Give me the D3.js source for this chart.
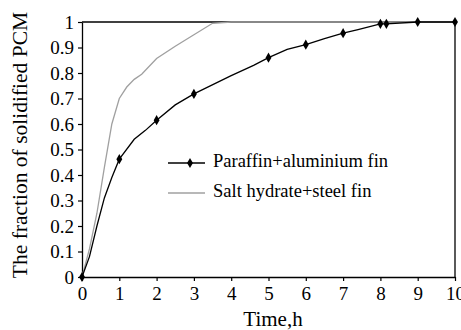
<!DOCTYPE html>
<meta charset="utf-8">
<script src="https://d3js.org/d3.v7.min.js"></script>
<body style="margin:0;background:#fff">
<svg id="chart" width="461" height="330"></svg>
<script>
// data
const paraffinX = [0, 0.2, 0.4, 0.6, 0.8, 1, 1.4, 1.7, 2, 2.5, 3, 4, 4.6, 5, 5.5, 6, 6.5, 7, 7.4, 8, 8.16, 9, 10];
const paraffinY = [0, 0.08, 0.2, 0.31, 0.39, 0.462, 0.54, 0.575, 0.615, 0.675, 0.718, 0.79, 0.83, 0.86, 0.893, 0.911, 0.935, 0.956, 0.97, 0.993, 0.993, 1, 1];
const paraffinMarkers = [0, 1, 2, 3, 5, 6, 7, 8, 8.16, 9, 10];
const saltX = [0, 0.2, 0.4, 0.6, 0.8, 1, 1.2, 1.4, 1.6, 2, 2.5, 3, 3.5, 4, 5, 6, 7, 8, 9, 10];
const saltY = [0, 0.11, 0.25, 0.43, 0.6, 0.7, 0.745, 0.775, 0.795, 0.857, 0.905, 0.95, 0.995, 1, 1, 1, 1, 1, 1, 1];
const xTicks = [0, 1, 2, 3, 4, 5, 6, 7, 8, 9, 10];
const yTicks = [0, 0.1, 0.2, 0.3, 0.4, 0.5, 0.6, 0.7, 0.8, 0.9, 1];
const seriesNames = ["Paraffin+aluminium fin", "Salt hydrate+steel fin"];

const svg = d3.select("#chart");
const font = "'Liberation Serif', 'Times New Roman', serif";
const x = d3.scaleLinear().domain([0, 10]).range([82, 455]);
const y = d3.scaleLinear().domain([0, 1]).range([277, 22]);

// frame top/right
svg.append("line").attr("x1", x(0)).attr("x2", x(10)).attr("y1", y(1)).attr("y2", y(1)).attr("stroke", "#000").attr("stroke-width", 1.3);
svg.append("line").attr("x1", x(10)).attr("x2", x(10)).attr("y1", y(1)).attr("y2", y(0)).attr("stroke", "#000").attr("stroke-width", 1.3);

const xAxis = svg.append("g").attr("transform", `translate(0,${y(0)})`)
  .call(d3.axisBottom(x).tickValues(xTicks).tickFormat(d3.format("d")).tickSize(4).tickSizeOuter(0));
const yAxis = svg.append("g").attr("transform", `translate(${x(0)},0)`)
  .call(d3.axisLeft(y).tickValues(yTicks).tickFormat(d => d === 0 || d === 1 ? d : d.toFixed(1)).tickSize(4).tickSizeOuter(0));
[xAxis, yAxis].forEach(a => {
  a.select(".domain").attr("stroke-width", 1.3);
  a.selectAll("line").attr("stroke-width", 1.2);
  a.selectAll("text").attr("font-family", font).attr("font-size", 19).attr("fill", "#000");
});
xAxis.selectAll("text").attr("dy", null).attr("y", 23);
yAxis.selectAll("text").attr("x", -8);

const line = d3.line().x(d => x(d[0])).y(d => y(d[1]));
const salt = saltX.map((v, i) => [v, saltY[i]]);
const paraffin = paraffinX.map((v, i) => [v, paraffinY[i]]);

svg.append("path").datum(salt).attr("d", line).attr("fill", "none").attr("stroke", "#a0a0a0").attr("stroke-width", 1.3);
svg.append("path").datum(paraffin).attr("d", line).attr("fill", "none").attr("stroke", "#000").attr("stroke-width", 1.3);

const diamond = d3.symbol().type(d3.symbolDiamond).size(30);
svg.append("g").selectAll("path")
  .data(paraffinMarkers)
  .join("path")
  .attr("d", diamond)
  .attr("transform", d => `translate(${x(d)},${y(paraffin[paraffinX.indexOf(d)][1])})`)
  .attr("fill", "#000");

// legend
const leg = svg.append("g");
leg.append("line").attr("x1", 168).attr("x2", 205).attr("y1", 163).attr("y2", 163).attr("stroke", "#000").attr("stroke-width", 1.3);
leg.append("path").attr("d", diamond).attr("transform", "translate(190,163)").attr("fill", "#000");
leg.append("line").attr("x1", 168).attr("x2", 205).attr("y1", 193).attr("y2", 193).attr("stroke", "#a0a0a0").attr("stroke-width", 1.3);
leg.selectAll("text").data(seriesNames).join("text")
  .attr("x", 213).attr("y", (d, i) => 167 + i * 30)
  .attr("font-family", font).attr("font-size", 18.5).text(d => d);

svg.append("text").attr("x", 273).attr("y", 326).attr("text-anchor", "middle")
  .attr("font-family", font).attr("font-size", 21).text("Time,h");
svg.append("text").attr("transform", "translate(27,145) rotate(-90)").attr("text-anchor", "middle")
  .attr("font-family", font).attr("font-size", 21.5).text("The fraction of solidified PCM");
</script>
</body>
